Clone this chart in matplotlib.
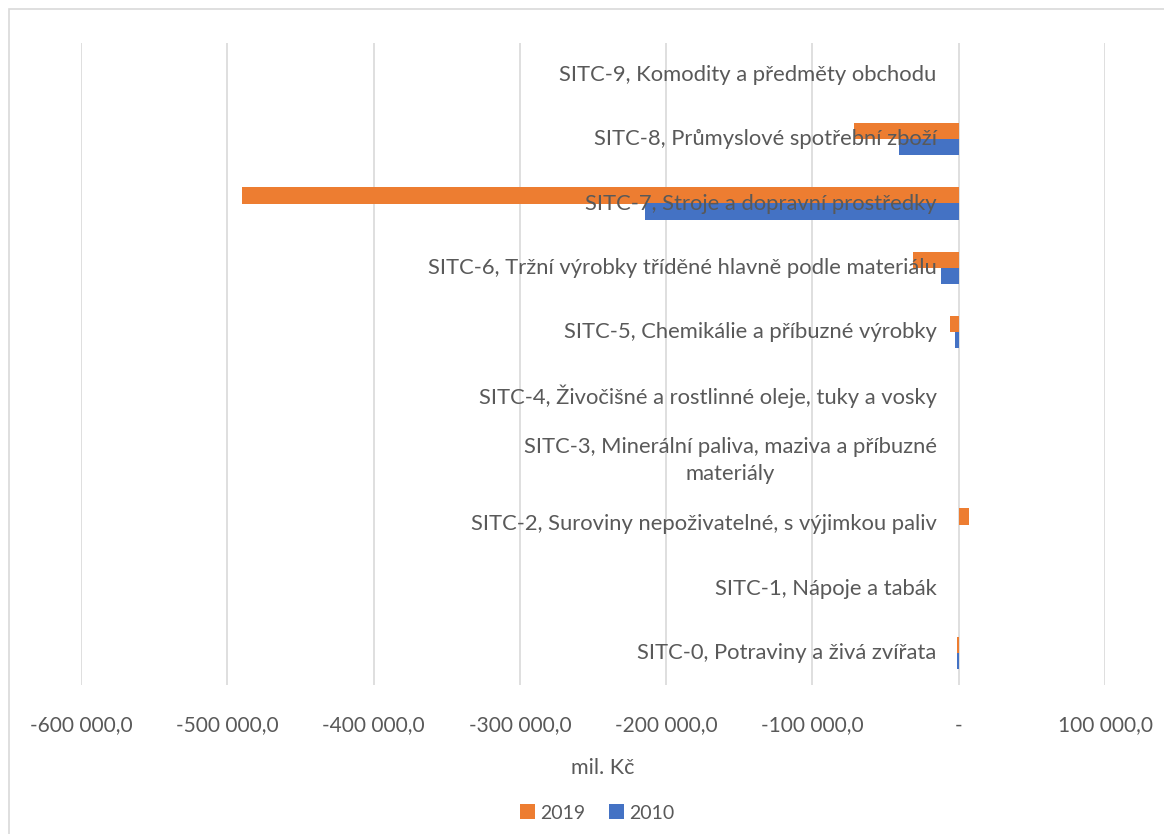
import matplotlib
matplotlib.use("Agg")
import matplotlib.pyplot as plt
import matplotlib.patches as patches
from matplotlib.transforms import offset_copy
from matplotlib.ticker import FuncFormatter, MultipleLocator

plt.rcParams['font.family'] = ['Lato', 'DejaVu Sans']

kategorie = [
    "SITC-0, Potraviny a živá zvířata",
    "SITC-1, Nápoje a tabák",
    "SITC-2, Suroviny nepoživatelné, s výjimkou paliv",
    "SITC-3, Minerální paliva, maziva a příbuzné\nmateriály",
    "SITC-4, Živočišné a rostlinné oleje, tuky a vosky",
    "SITC-5, Chemikálie a příbuzné výrobky",
    "SITC-6, Tržní výrobky tříděné hlavně podle materiálu",
    "SITC-7, Stroje a dopravní prostředky",
    "SITC-8, Průmyslové spotřební zboží",
    "SITC-9, Komodity a předměty obchodu",
]
hodnoty_2019 = [-1200, 0, 6800, 0, 0, -6200, -31000, -490000, -71500, 0]
hodnoty_2010 = [-1000, 0, 0, 0, 0, -2200, -11800, -214500, -41000, 0]

seda = '#595959'
mrizka = '#d9d9d9'

fig = plt.figure(figsize=(11.64, 8.34), dpi=100)
ax = fig.add_axes([81 / 1164, 1 - 685 / 834, (1105 - 81) / 1164, (685 - 43) / 834])

# ramecek grafu
fig.patches.append(patches.Rectangle((9 / 1164, -0.05), 1.1, 1 - 9 / 834 + 0.05,
                                     transform=fig.transFigure, fill=False,
                                     edgecolor=mrizka, linewidth=1.2))

y = list(range(len(kategorie)))
ax.barh([v + 0.125 for v in y], hodnoty_2019, height=0.25, color='#ED7D31', label='2019', zorder=3)
ax.barh([v - 0.125 for v in y], hodnoty_2010, height=0.25, color='#4472C4', label='2010', zorder=3)

ax.set_xlim(-600000, 100000)
ax.set_ylim(-0.5, len(kategorie) - 0.5)
ax.xaxis.set_major_locator(MultipleLocator(100000))
ax.grid(axis='x', color=mrizka, linewidth=1.2, zorder=0)
ax.set_yticks([])
for s in ax.spines.values():
    s.set_visible(False)


def fmt(v, pos):
    if abs(v) < 1e-6:
        return '-'
    return f"{v:,.1f}".replace(",", " ").replace(".", ",")


ax.xaxis.set_major_formatter(FuncFormatter(fmt))
ax.tick_params(axis='x', length=0, pad=22, labelsize=15, labelcolor=seda)

# popisky kategorii vedle osy v nule
tr = offset_copy(ax.transData, fig=fig, x=-22, y=0, units='dots')
for i, k in enumerate(kategorie):
    ax.text(0, i, k, transform=tr, ha='right', va='center', multialignment='center',
            fontsize=15.8, color=seda, linespacing=1.45, zorder=4)

fig.text(603 / 1164, 1 - 768 / 834, 'mil. Kč', ha='center', va='center', fontsize=15.5, color=seda)

h, l = ax.get_legend_handles_labels()
fig.legend(h, l, loc='center', bbox_to_anchor=(597 / 1164, 1 - 813 / 834), ncol=2, frameon=False,
           fontsize=14, labelcolor=seda, handlelength=0.8, handleheight=0.8,
           handletextpad=0.25, columnspacing=1.2)

fig.savefig('out.png', dpi=100)
